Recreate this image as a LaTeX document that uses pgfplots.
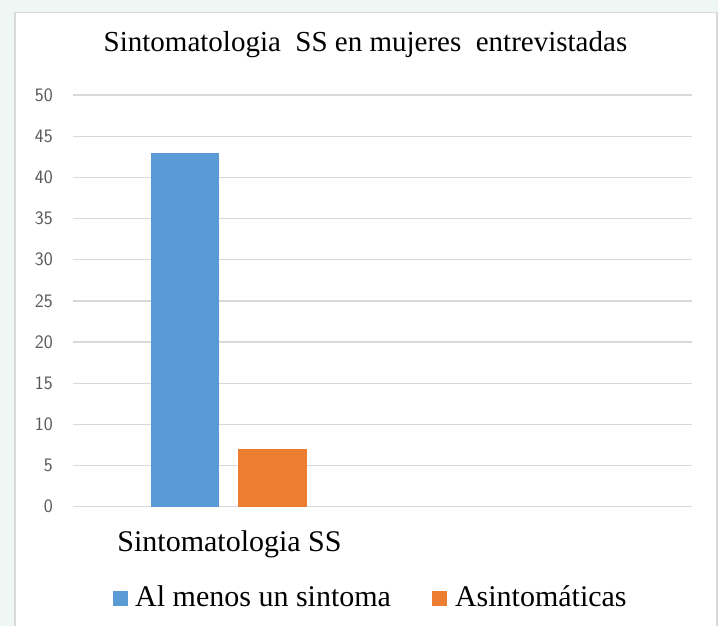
\documentclass[border=0pt]{standalone}
\usepackage{pgfplots}
\pgfplotsset{compat=1.18}
\usepackage{fontspec}
\setmainfont{Liberation Serif}
\newfontfamily\serifont{Liberation Serif}
\definecolor{bgmint}{HTML}{EEF7F4}
\definecolor{gridgray}{HTML}{D9D9D9}
\definecolor{ticktext}{HTML}{595959}
\definecolor{barblue}{HTML}{5B9BD5}
\definecolor{barorange}{HTML}{ED7D31}
\begin{document}
\begin{tikzpicture}[x=1pt,y=1pt]
\useasboundingbox (0,0) rectangle (718,-626);
\fill[bgmint] (0,0) rectangle (718,-626);
\filldraw[fill=white, draw=gridgray, line width=1.5pt] (15,-12.5) rectangle (717,-640);
\begin{axis}[
  at={(73pt,-506.7pt)}, anchor=south west,
  scale only axis, width=619pt, height=411.7pt,
  xmin=73, xmax=692, ymin=0, ymax=50,
  ytick={0,5,...,50},
  xtick={229.5}, xticklabels={Sintomatologia SS},
  major tick length=0pt,
  axis line style={draw=none},
  ymajorgrids, grid style={gridgray, line width=1.3pt},
  /pgf/number format/assume math mode=true,
  yticklabel style={font=\sffamily\fontsize{19}{23}\selectfont, text=ticktext, anchor=east, inner sep=0pt, xshift=-20pt},
  xticklabel style={font=\serifont\fontsize{30}{36}\selectfont, anchor=base, inner sep=0pt, yshift=-45pt},
  title={Sintomatologia\ \ SS en mujeres\ \ entrevistadas},
  title style={at={(axis description cs:0.4725,1.0899)}, anchor=base, inner sep=0pt, font=\serifont\fontsize{29}{34}\selectfont},
  legend columns=2,
  legend cell align=left,
  legend style={at={(axis description cs:0.0646,-0.2187)}, anchor=west, draw=none, fill=none, inner sep=0pt, nodes={inner sep=0pt}, row sep=0pt, column sep=0pt, font=\serifont\fontsize{30}{36}\selectfont},
  legend image code/.code={\fill[#1] (0pt,-9.5pt) rectangle (15pt,5.5pt);},
]
\addplot[ybar, bar width=68, bar shift=0pt, fill=barblue, draw=none] coordinates {(185,43)};
\addlegendentry{\hspace{7pt}Al menos un sintoma\rule{41pt}{0pt}}
\addplot[ybar, bar width=69, bar shift=0pt, fill=barorange, draw=none] coordinates {(272.5,7)};
\addlegendentry{\hspace{8pt}Asintomáticas}
\end{axis}
\end{tikzpicture}
\end{document}
